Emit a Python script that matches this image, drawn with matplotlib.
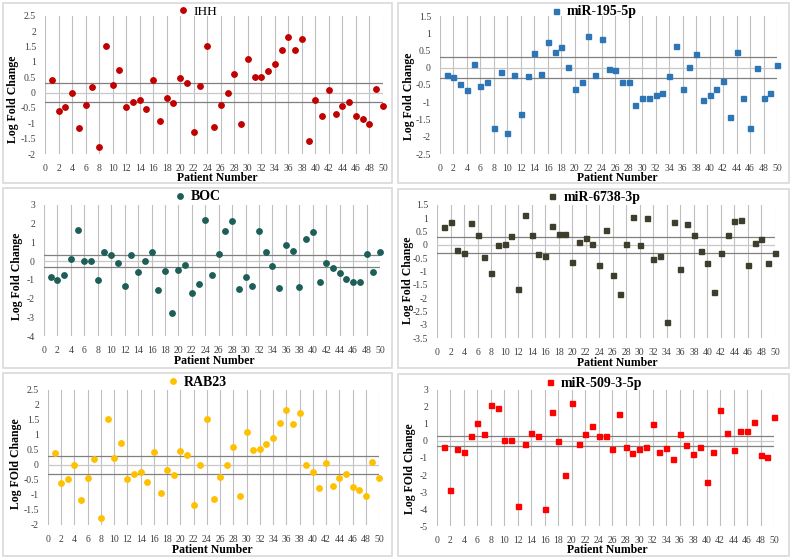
import matplotlib.pyplot as plt
from matplotlib.patches import Rectangle
from matplotlib.lines import Line2D
import numpy as np

plt.rcParams['font.family'] = ['Liberation Serif', 'DejaVu Serif']
plt.rcParams['axes.unicode_minus'] = False

patients = list(range(1, 51))

ihh = [0.40, -0.60, -0.48, -0.01, -1.16, -0.42, 0.17, -1.78, 1.52, 0.24,
       0.73, -0.47, -0.30, -0.24, -0.55, 0.41, -0.91, -0.17, -0.35, 0.47,
       0.31, -1.30, 0.20, 1.53, -1.13, -0.42, 0.00, 0.61, -1.02, 1.08,
       0.49, 0.52, 0.69, 0.92, 1.39, 1.82, 1.38, 1.75, -1.59, -0.24,
       -0.77, 0.08, -0.69, -0.43, -0.30, -0.76, -0.86, -1.02, 0.10, -0.43]

mir195 = [-0.20, -0.28, -0.47, -0.64, 0.12, -0.54, -0.42, -1.76, -0.13, -1.89,
          -0.21, -1.34, -0.25, 0.42, -0.17, 0.74, 0.45, 0.59, 0.02, -0.61,
          -0.42, 0.92, -0.20, 0.83, -0.03, -0.07, -0.40, -0.41, -1.07, -0.88,
          -0.88, -0.79, -0.72, -0.23, 0.64, -0.63, 0.01, 0.41, -0.94, -0.80,
          -0.61, -0.38, -1.43, 0.45, -0.89, -1.74, 0.00, -0.88, -0.72, 0.09]

boc = [-0.87, -1.03, -0.73, 0.12, 1.63, 0.02, 0.02, -1.01, 0.48, 0.35,
       -0.09, -1.35, 0.35, -0.59, 0.02, 0.51, -1.54, -0.51, -2.77, -0.50,
       -0.23, -1.68, -1.22, 2.20, -0.74, 0.39, 1.61, 2.15, -1.49, -0.85,
       -1.33, 1.58, 0.50, -0.27, -1.42, 0.83, 0.53, -1.37, 1.17, 1.54,
       -1.12, -0.09, -0.39, -0.64, -0.94, -1.12, -1.13, 0.37, -0.57, 0.46]

mir6738 = [0.67, 0.87, -0.21, -0.30, 0.81, 0.36, -0.44, -1.06, 0.00, 0.04,
           0.31, -1.67, 1.13, 0.36, -0.35, -0.42, 0.72, 0.40, 0.41, -0.65,
           0.11, 0.27, 0.02, -0.76, 0.57, -1.13, -1.85, 0.02, 1.05, 0.01,
           0.99, -0.52, -0.41, -2.88, 0.85, -0.90, 0.79, 0.36, -0.24, -0.69,
           -1.77, -0.31, 0.35, 0.89, 0.91, -0.76, 0.06, 0.21, -0.70, -0.29]

rab23 = [0.40, -0.61, -0.48, -0.02, -1.16, -0.43, 0.18, -1.78, 1.52, 0.22,
         0.72, -0.47, -0.31, -0.23, -0.57, 0.42, -0.92, -0.18, -0.35, 0.45,
         0.32, -1.32, 0.00, 1.53, -1.14, -0.42, 0.00, 0.60, -1.02, 1.08,
         0.49, 0.52, 0.69, 0.91, 1.39, 1.82, 1.37, 1.74, 0.00, -0.23,
         -0.78, 0.07, -0.70, -0.43, -0.31, -0.75, -0.85, -1.02, 0.09, -0.44]

mir509 = [-0.35, -2.89, -0.45, -0.64, 0.29, 1.03, 0.39, 2.09, 1.91, 0.04,
          0.08, -3.79, -0.18, 0.47, 0.31, -4.00, 1.72, 0.02, -1.97, 2.24,
          -0.18, 0.39, 0.86, 0.29, 0.27, -0.45, 1.60, -0.33, -0.72, -0.47,
          -0.37, 1.00, -0.64, -0.41, -1.05, 0.39, -0.21, -0.78, -0.35, -2.42,
          -0.66, 1.80, 0.47, -0.51, 0.57, 0.60, 1.13, -0.84, -0.92, 1.42]

W, H = 793, 559
fig = plt.figure(figsize=(W / 100, H / 100), dpi=100)


def fx(px):
    return px / W


def fy(py):
    return 1 - py / H


def panel(box, plot, values, name, color, marker, ylim, ystep, ylabel,
          ylab_pos, xlab_pos, leg_y, title_bold=True):
    # outer chart border
    bx0, by0, bx1, by1 = box
    fig.add_artist(Rectangle((fx(bx0), fy(by1)), (bx1 - bx0) / W, (by1 - by0) / H,
                             transform=fig.transFigure, fill=False,
                             edgecolor='#D9D9D9', lw=1.2))
    x0, x1, ytop, ybot = plot
    ax = fig.add_axes([fx(x0), fy(ybot), (x1 - x0) / W, (ybot - ytop) / H])
    ax.set_xlim(0, 50)
    ax.set_ylim(*ylim)
    ax.set_xticks(range(0, 51, 2))
    yt = np.arange(ylim[0], ylim[1] + 0.001, ystep)
    ax.set_yticks(yt)
    ax.set_yticklabels([f"{v:g}" for v in yt])
    ax.grid(axis='x', color='#BFBFBF', lw=0.8)
    ax.set_axisbelow(True)
    for s in ax.spines.values():
        s.set_visible(False)
    ax.tick_params(length=0, labelsize=7, colors='#404040')
    ax.tick_params(axis='y', pad=6.5)
    ax.tick_params(axis='x', pad=7)

    # thresholds at +/-0.3 and the zero line
    ax.axhline(0.3, color='#808080', lw=0.9, zorder=1)
    ax.axhline(0, color='#C8C8C8', lw=0.9, zorder=1)
    ax.axhline(-0.3, color='#808080', lw=0.9, zorder=1)

    ms = 3.9 if marker == 'o' else 3.6
    ax.plot(patients, values, linestyle='none', marker=marker, ms=ms,
            color=color, mec=color, clip_on=False, zorder=3)

    fig.text(fx(ylab_pos[0]), fy(ylab_pos[1]), ylabel, rotation=90,
             ha='center', va='center', fontsize=8.5, fontweight='bold')
    fig.text(fx(xlab_pos[0]), fy(xlab_pos[1]), 'Patient Number',
             ha='center', va='center', fontsize=8.5, fontweight='bold')

    handle = Line2D([], [], linestyle='none', marker=marker, ms=ms,
                    color=color, mec=color)
    ax.legend([handle], [name], loc='center',
              bbox_to_anchor=(fx((bx0 + bx1) / 2), fy(leg_y)),
              bbox_transform=fig.transFigure, frameon=False,
              handlelength=0.8, handletextpad=0.4, borderpad=0,
              prop={'size': 10 if title_bold else 9.5,
                    'weight': 'bold' if title_bold else 'normal'})
    return ax


panel((3, 3, 392, 183), (45, 383, 15.7, 154), ihh, 'IHH', '#C00000', 'o',
      (-2, 2.5), 0.5, 'Log Fold Change', (13, 99), (217, 178), 12,
      title_bold=False)
panel((398, 3, 789, 183), (440, 777, 16, 154), mir195, 'miR-195-5p', '#2E75B6', 's',
      (-2.5, 1.5), 0.5, 'Log Fold Change', (409, 96), (617, 178), 12)
panel((3, 188, 392, 368), (44, 380, 204.7, 336.3), boc, 'BOC', '#1E5E58', 'o',
      (-4, 3), 1, 'Log Fold Change', (17, 276), (214, 361), 197)
panel((398, 189, 789, 368), (437, 775, 204.7, 338.3), mir6738, 'miR-6738-3p', '#3F3D2B', 's',
      (-3.5, 1.5), 0.5, 'Log Fold Change', (408, 280), (617, 363), 197)
panel((3, 373, 392, 556), (48, 379, 389.7, 525), rab23, 'RAB23', '#FFC000', 'o',
      (-2, 2.5), 0.5, 'Log FOld Change', (16, 464), (212, 550), 382)
panel((398, 374, 789, 556), (437, 774, 389.7, 526.3), mir509, 'miR-509-3-5p', '#FF0000', 's',
      (-5, 3), 1, 'Log FOld Change', (410, 469), (607, 550), 383)

fig.savefig('out.png', dpi=100)
